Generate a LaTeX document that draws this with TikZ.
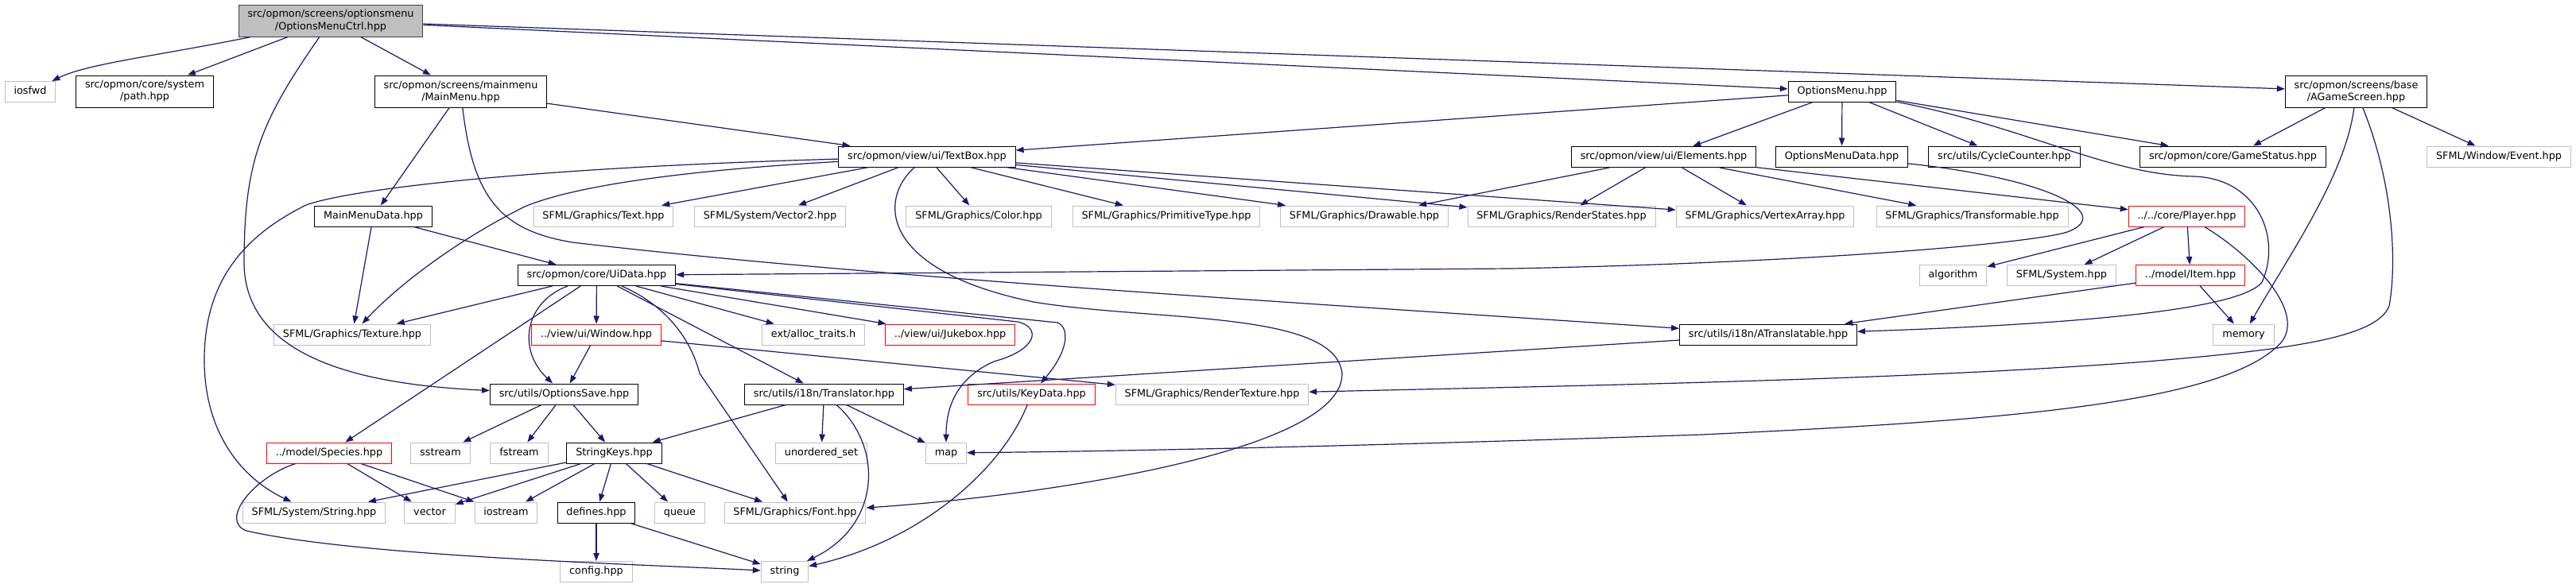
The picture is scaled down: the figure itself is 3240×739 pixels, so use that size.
\documentclass[tikz,border=0pt]{standalone}
\usepackage{fontspec}
\setmainfont{DejaVu Sans}
\usetikzlibrary{arrows.meta,calc}
\definecolor{depblue}{HTML}{191970}
\definecolor{grey75}{HTML}{BFBFBF}
\definecolor{extgrey}{HTML}{C0C0C0}
\newcommand{\dox}{\fontsize{9.6}{11.3}\selectfont}
\tikzset{
  hdr/.style={draw=black,line width=0.75pt,font=\dox,inner xsep=8.5pt,inner ysep=0pt,minimum height=19.5pt,text height=7.3pt,text depth=2.2pt},
  ext/.style={hdr,draw=extgrey},
  trunc/.style={hdr,draw=red},
  two/.style={align=center,minimum height=30pt,text height=,text depth=},
  root/.style={hdr,two,fill=grey75,draw=black!75},
  dep/.style={-{Triangle[length=7.5pt,width=5.5pt]},line width=0.9pt,depblue},
}

\begin{document}
\begin{tikzpicture}[x=0.75pt,y=-0.75pt]
\useasboundingbox (0,0) rectangle (3240,739);
\node[root] (omc) at (416,26) {src/opmon/screens/optionsmenu\\/OptionsMenuCtrl.hpp};
\node[ext] (iosfwd) at (38,115.5) {iosfwd};
\node[hdr,two] (path) at (182,115) {src/opmon/core/system\\/path.hpp};
\node[hdr,two] (mm) at (579.5,115) {src/opmon/screens/mainmenu\\/MainMenu.hpp};
\node[hdr] (om) at (2317,115) {OptionsMenu.hpp};
\node[hdr,two] (ags) at (2963.5,115) {src/opmon/screens/base\\/AGameScreen.hpp};
\node[hdr] (tbox) at (1166,197) {src/opmon/view/ui/TextBox.hpp};
\node[hdr] (elem) at (2092.5,197.5) {src/opmon/view/ui/Elements.hpp};
\node[hdr] (omd) at (2316.5,197) {OptionsMenuData.hpp};
\node[hdr] (cyc) at (2521,197) {src/utils/CycleCounter.hpp};
\node[hdr] (gst) at (2808.5,197) {src/opmon/core/GameStatus.hpp};
\node[ext] (evt) at (3143,197) {SFML/Window/Event.hpp};
\node[hdr] (mmd) at (469.5,272) {MainMenuData.hpp};
\node[ext] (txt) at (759,272) {SFML/Graphics/Text.hpp};
\node[ext] (vec2) at (968.5,272) {SFML/System/Vector2.hpp};
\node[ext] (col) at (1231,272) {SFML/Graphics/Color.hpp};
\node[ext] (prim) at (1467,272) {SFML/Graphics/PrimitiveType.hpp};
\node[ext] (drw) at (1716,272) {SFML/Graphics/Drawable.hpp};
\node[ext] (rst) at (1964,272) {SFML/Graphics/RenderStates.hpp};
\node[ext] (vxa) at (2220,272) {SFML/Graphics/VertexArray.hpp};
\node[ext] (trf) at (2480.5,272) {SFML/Graphics/Transformable.hpp};
\node[trunc] (plr) at (2750.5,272) {../../core/Player.hpp};
\node[hdr] (uid) at (750.5,346.5) {src/opmon/core/UiData.hpp};
\node[ext] (alg) at (2456.5,346.5) {algorithm};
\node[ext] (sys) at (2593,346.5) {SFML/System.hpp};
\node[trunc] (item) at (2755,346.5) {../model/Item.hpp};
\node[ext] (tex) at (443,421) {SFML/Graphics/Texture.hpp};
\node[trunc] (win) at (750,421) {../view/ui/Window.hpp};
\node[ext] (alt) at (1023,421) {ext/alloc\_traits.h};
\node[trunc] (jbx) at (1195,421) {../view/ui/Jukebox.hpp};
\node[hdr] (atr) at (2224,421) {src/utils/i18n/ATranslatable.hpp};
\node[ext] (mem) at (2822,421) {memory};
\node[hdr] (osv) at (709.5,496) {src/utils/OptionsSave.hpp};
\node[hdr] (trl) at (1036.5,496) {src/utils/i18n/Translator.hpp};
\node[trunc] (kdt) at (1297.5,496) {src/utils/KeyData.hpp};
\node[ext] (rtx) at (1524.5,496) {SFML/Graphics/RenderTexture.hpp};
\node[trunc] (spc) at (414,570) {../model/Species.hpp};
\node[ext] (sst) at (554,570) {sstream};
\node[ext] (fst) at (653,570) {fstream};
\node[hdr] (skey) at (772.5,570) {StringKeys.hpp};
\node[ext] (uset) at (1033,570) {unordered\_set};
\node[ext] (map) at (1190,570) {map};
\node[ext] (sstr) at (395,645) {SFML/System/String.hpp};
\node[ext] (vct) at (540.5,645) {vector};
\node[ext] (ios) at (636.5,645) {iostream};
\node[hdr] (dfn) at (750,645) {defines.hpp};
\node[ext] (que) at (855,645) {queue};
\node[ext] (fnt) at (1000,645) {SFML/Graphics/Font.hpp};
\node[ext] (cfg) at (750,719.5) {config.hpp};
\node[ext] (str) at (987,719.5) {string};
\foreach \a/\b in {omc/path,omc/mm,omc/om,omc/ags,mm/tbox,mm/mmd,mmd/tex,mmd/uid,
  tbox/txt,tbox/vec2,tbox/col,tbox/prim,tbox/drw,tbox/rst,tbox/vxa,
  om/tbox,om/elem,om/omd,om/cyc,om/gst,elem/drw,elem/rst,elem/vxa,elem/trf,elem/plr,
  ags/gst,ags/evt,plr/alg,plr/sys,plr/item,item/atr,item/mem,atr/trl,
  uid/tex,uid/win,uid/spc,uid/alt,uid/jbx,uid/trl,win/osv,win/rtx,
  osv/sst,osv/fst,osv/skey,trl/skey,trl/uset,trl/map,spc/vct,spc/ios,
  skey/sstr,skey/vct,skey/ios,skey/dfn,skey/que,skey/fnt,dfn/cfg,dfn/str}
  {\draw[dep] (\a) -- (\b);}
\draw[dep] (omc) .. controls (200,70) and (110,80) .. (iosfwd);
\draw[dep] (omc) .. controls (330,150) and (307,200) .. (307,330) .. controls (307,460) and (480,485) .. (osv);
\draw[dep] (mm) .. controls (595,250) and (630,290) .. (720,305) .. controls (1100,350) and (1700,385) .. (atr);
\draw[dep] (tbox) .. controls (700,210) and (450,235) .. (385,258) .. controls (300,300) and (258,360) .. (257,450) .. controls (256,540) and (300,600) .. (sstr);
\draw[dep] (tbox) .. controls (850,215) and (720,235) .. (660,260) .. controls (560,310) and (490,370) .. (tex);
\draw[dep] (tbox) .. controls (1105,250) and (1105,340) .. (1300,380) .. controls (1450,405) and (1680,390) .. (1688,470) .. controls (1690,570) and (1300,625) .. (fnt);
\draw[dep] (uid) .. controls (660,380) and (650,440) .. (osv);
\draw[dep] (uid) .. controls (840,385) and (870,430) .. (880,470) -- (fnt);
\draw[dep] (uid) -- (1280,405) .. controls (1310,412) and (1305,440) .. (1250,455) .. controls (1205,475) and (1190,510) .. (map);
\draw[dep] (uid) -- (1330,406) .. controls (1345,412) and (1345,440) .. (kdt);
\draw[dep] (omd) .. controls (2580,225) and (2660,270) .. (2600,292) .. controls (2560,305) and (2300,330) .. (1900,338) -- (uid);
\draw[dep] (om) .. controls (2550,160) and (2650,220) .. (2760,222) .. controls (2840,225) and (2870,300) .. (2845,355) .. controls (2815,395) and (2550,410) .. (atr);
\draw[dep] (ags) .. controls (2950,220) and (2880,320) .. (mem);
\draw[dep] (ags) .. controls (3010,230) and (3015,330) .. (3005,385) .. controls (2990,425) and (2880,440) .. (2700,455) .. controls (2400,478) and (2000,485) .. (rtx);
\draw[dep] (plr) .. controls (2830,320) and (2900,390) .. (2870,430) .. controls (2800,510) and (2500,530) .. (2140,547) .. controls (1700,562) and (1400,568) .. (map);
\draw[dep] (trl) .. controls (1110,560) and (1110,660) .. (str);
\draw[dep] (kdt) .. controls (1260,590) and (1160,680) .. (str);
\draw[dep] (spc) .. controls (320,600) and (275,655) .. (310,668) .. controls (450,700) and (800,710) .. (str);
\end{tikzpicture}
\end{document}
